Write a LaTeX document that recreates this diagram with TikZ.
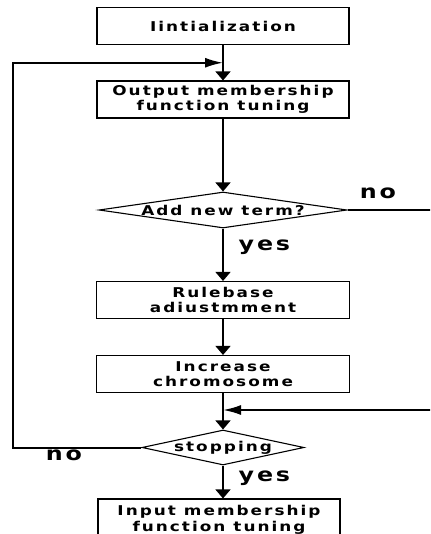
\documentclass[tikz,border=0pt]{standalone}
\usepackage{fontspec}
\usepackage{tikz}
\usetikzlibrary{arrows.meta, positioning, calc, shapes.geometric}
\newfontfamily\plotfont[LetterSpace=15, FakeStretch=1.25]{DejaVu Sans}

\begin{document}
\begin{tikzpicture}[x=1pt, y=-1pt, >={Triangle[length=9pt, width=15pt]},
    procbox/.style={draw, line width=1.1pt, inner sep=0pt, minimum width=252pt,
      minimum height=37pt, align=center,
      font=\plotfont\bfseries\fontsize{13.5}{15.5}\selectfont},
    decision/.style={draw, diamond, line width=1.1pt, inner sep=0pt,
      font=\plotfont\bfseries\fontsize{13.5}{15.5}\selectfont},
    answer/.style={inner sep=0pt, font=\plotfont\bfseries\fontsize{19}{19}\selectfont},
    flow/.style={line width=1.4pt},
    rail/.style={line width=2pt, -{Latex[length=18pt, width=10pt]}}]
  \clip (0,0) rectangle (430,534);

  % Boxes and decisions
  \node[procbox] (init) at (223,26) {Iintialization};
  \node[procbox] (outtune) at (223,99.5) {Output membership\\function tuning};
  \node[decision, minimum width=248pt, minimum height=36pt] (addterm) at (223,210)
    {\makebox[0pt]{Add new term?}};
  \node[procbox, minimum width=253pt] (rulebase) at (223,300) {Rulebase\\adiustmment};
  \node[procbox, minimum width=253pt] (increase) at (223,374) {Increase\\chromosome};
  \node[decision, minimum width=162pt, minimum height=35pt] (stopping) at (223,447.5)
    {\makebox[0pt]{stopping}};
  \node[procbox, minimum width=242pt, minimum height=42pt] (intune) at (219,520)
    {Input membership\\function tuning};

  % Joints on the main line
  \coordinate (loopin) at ($(init.south)!0.5!(outtune.north)$);
  \coordinate (merge) at (223,410);
  \coordinate (leftrail) at (13,300);
  \coordinate (rightrail) at (442,300);

  % Main flow
  \draw[flow, ->] (init) -- (outtune);
  \draw[flow, ->] (outtune) -- (addterm);
  \draw[flow, ->] (addterm) -- node[answer, anchor=west, pos=0.35, xshift=15pt] (yesone) {yes}
    (rulebase);
  \draw[flow, ->] (rulebase) -- (increase);
  \draw[flow, ->] (increase) -- (stopping);
  \draw[flow, ->] (stopping.south) -- node[answer, anchor=west, pos=0.38, xshift=15pt] (yestwo) {yes}
    (stopping.south |- intune.north);

  % Loops back
  \draw[rail] (stopping.west) -| (leftrail) |- (loopin);
  \draw[rail] (addterm.east) -| (rightrail) |- (merge);
  \node[answer] (noone) at (378,193) {no};
  \node[answer] (notwo) at (64,455) {no};
\end{tikzpicture}
\end{document}
